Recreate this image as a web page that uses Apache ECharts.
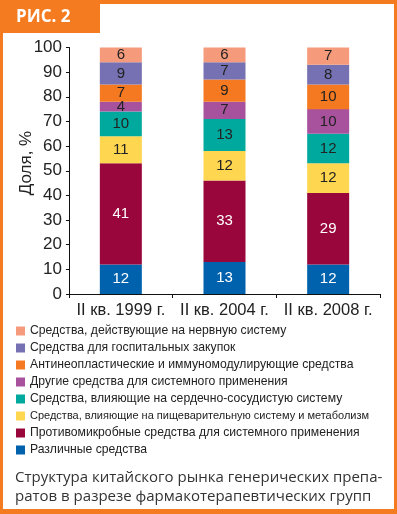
<!DOCTYPE html>
<html><head><meta charset="utf-8">
<script src="https://cdn.jsdelivr.net/npm/echarts@6/dist/echarts.min.js"></script>
<style>html,body{margin:0;padding:0;background:#fff}#c{width:397px;height:514px}</style>
</head><body><div id="c"></div>
<script>
const categories = ['II кв. 1999 г.', 'II кв. 2004 г.', 'II кв. 2008 г.'];
const seriesNames = [
  'Различные средства',
  'Противомикробные средства для системного применения',
  'Средства, влияющие на пищеварительную систему и метаболизм',
  'Средства, влияющие на сердечно-сосудистую систему',
  'Другие средства для системного применения',
  'Антинеопластические и иммуномодулирующие средства',
  'Средства для госпитальных закупок',
  'Средства, действующие на нервную систему'
];
const vRazlichnye = [12, 13, 12];
const vProtivomikrobnye = [41, 33, 29];
const vPishchevaritelnye = [11, 12, 12];
const vSerdechno = [10, 13, 12];
const vDrugie = [4, 7, 10];
const vAntineoplast = [7, 9, 10];
const vGospital = [9, 7, 8];
const vNervnye = [6, 6, 7];
const yTicks = [0, 10, 20, 30, 40, 50, 60, 70, 80, 90, 100];
const colors = ['#0061ac', '#99063c', '#ffd64f', '#00a99e', '#a8529e', '#f47920', '#7671b2', '#f69a7c'];
const labelColors = ['#fff', '#fff', '#222', '#222', '#222', '#222', '#222', '#222'];
const allValues = [vRazlichnye, vProtivomikrobnye, vPishchevaritelnye, vSerdechno, vDrugie, vAntineoplast, vGospital, vNervnye];
const ORANGE = '#f47b20';

const chart = echarts.init(document.getElementById('c'), null, {renderer: 'canvas'});
const series = allValues.map((vals, i) => ({
  name: seriesNames[i],
  type: 'bar',
  stack: 'total',
  barWidth: 42,
  data: vals,
  itemStyle: {color: colors[i]},
  label: {show: true, position: 'inside', color: labelColors[i], fontSize: 15, fontFamily: 'Liberation Sans', formatter: '{c}'}
}));
chart.setOption({
  animation: false,
  backgroundColor: '#fff',
  grid: {left: 69, right: 17, top: 47.5, bottom: 220, containLabel: false},
  xAxis: {
    type: 'category', data: categories,
    axisLine: {lineStyle: {color: '#111', width: 1}},
    axisTick: {show: true, length: 4, lineStyle: {color: '#111'}},
    axisLabel: {color: '#222', fontSize: 16.5, fontFamily: 'Liberation Sans', margin: 8, interval: 0, hideOverlap: false}
  },
  yAxis: {
    type: 'value', min: 0, max: 100, interval: 10,
    splitLine: {show: false},
    axisLine: {show: true, lineStyle: {color: '#111', width: 1}},
    axisTick: {show: true, length: 3, lineStyle: {color: '#111'}},
    axisLabel: {color: '#222', fontSize: 17, fontFamily: 'Liberation Sans', margin: 7,
      formatter: v => yTicks.includes(v) ? String(v) : ''}
  },
  legend: {
    orient: 'vertical', left: 16, top: 324, padding: 0,
    itemWidth: 9, itemHeight: 9, itemGap: 3, icon: 'rect',
    data: seriesNames.slice().reverse(),
    textStyle: {color: '#222', fontSize: 12.2, lineHeight: 14, fontFamily: 'Liberation Sans',
      rich: {s: {fontSize: 11, lineHeight: 14, fontFamily: 'Liberation Sans', color: '#222'}}},
    formatter: n => n.length > 55 ? '{s|' + n + '}' : n
  },
  series: series,
  graphic: [
    {type: 'rect', shape: {x: 0, y: 0, width: 3, height: 514}, style: {fill: ORANGE}, silent: true},
    {type: 'rect', shape: {x: 0, y: 0, width: 397, height: 4}, style: {fill: ORANGE}, silent: true},
    {type: 'rect', shape: {x: 394, y: 0, width: 3, height: 514}, style: {fill: ORANGE}, silent: true},
    {type: 'rect', shape: {x: 0, y: 509, width: 397, height: 5}, style: {fill: ORANGE}, silent: true},
    {type: 'rect', shape: {x: 0, y: 0, width: 100, height: 33}, style: {fill: ORANGE}, silent: true},
    {type: 'text', left: 16, top: 9, style: {text: 'РИС. 2', fill: '#fff', font: 'bold 17px "Open Sans", sans-serif'}, silent: true},
    {type: 'text', x: 26, y: 163, rotation: Math.PI / 2,
      style: {text: 'Доля, %', fill: '#222', font: '500 17px "Liberation Sans", sans-serif', align: 'center', verticalAlign: 'middle'}, silent: true},
    {type: 'text', left: 15, top: 468, style: {text: 'Структура китайского рынка генерических препа-\nратов в разрезе фармакотерапевтических групп', fill: '#333', font: '15px "Open Sans", sans-serif', lineHeight: 19}, silent: true}
  ]
});
</script></body></html>
